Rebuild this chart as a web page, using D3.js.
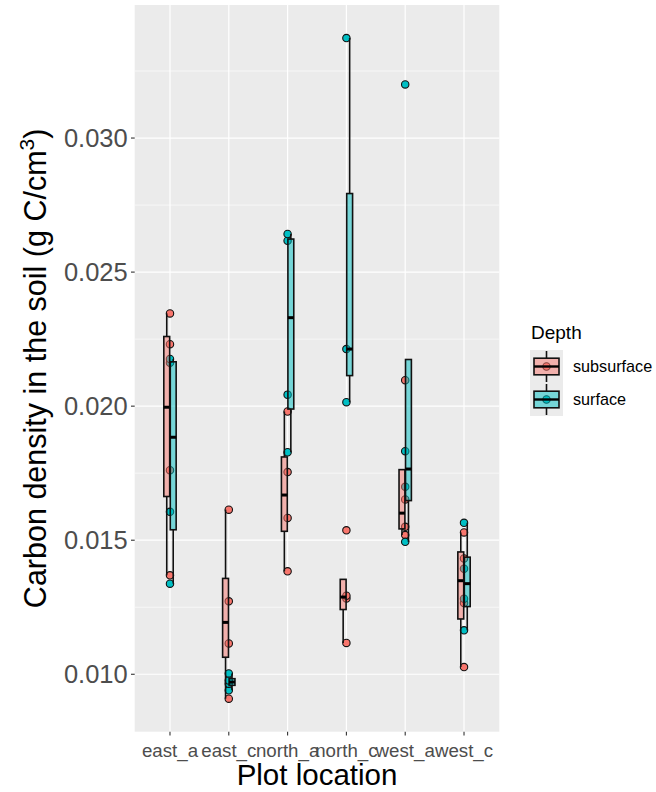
<!DOCTYPE html>
<html>
<head>
<meta charset="utf-8">
<script src="https://cdn.jsdelivr.net/npm/d3@7"></script>
<style>
  html, body { margin: 0; padding: 0; background: #ffffff; }
  svg { display: block; font-family: "Liberation Sans", Arial, Helvetica, sans-serif; }
</style>
</head>
<body>
<svg id="chart" width="656" height="792"></svg>
<script>
// ---------------- data ----------------
const categories = ["east_a", "east_c", "north_a", "north_c", "west_a", "west_c"];
const depths = ["subsurface", "surface"];
const depthColors = ["#F8766D", "#00BFC4"];

// carbon density (g C / cm^3), one list per plot location
const subsurfaceValues = [
  [0.01369, 0.01761, 0.02231, 0.02346],
  [0.00909, 0.01115, 0.01272, 0.01614],
  [0.01384, 0.01583, 0.01754, 0.01980],
  [0.01117, 0.01283, 0.01293, 0.01537],
  [0.01519, 0.01550, 0.01652, 0.02097],
  [0.01027, 0.01266, 0.01432, 0.01529]
];
const surfaceValues = [
  [0.01338, 0.01606, 0.02162, 0.02176],
  [0.00940, 0.00965, 0.00977, 0.01003],
  [0.01828, 0.02043, 0.02617, 0.02642],
  [0.02015, 0.02213, 0.03373],
  [0.01494, 0.01699, 0.01832, 0.03200],
  [0.01164, 0.01282, 0.01394, 0.01565]
];

const yTicks = [0.010, 0.015, 0.020, 0.025, 0.030];
const yTickLabels = ["0.010", "0.015", "0.020", "0.025", "0.030"];
const yMinorTicks = [0.0125, 0.0175, 0.0225, 0.0275, 0.0325];

const xTitle = "Plot location";
const yTitle = "Carbon density in the soil (g C/cm";
const legendTitle = "Depth";

// ---------------- layout ----------------
const svg = d3.select("#chart");
const panel = { left: 134.7, right: 499.3, top: 5, bottom: 731.7 };

const allValues = subsurfaceValues.flat().concat(surfaceValues.flat());
const vmin = d3.min(allValues), vmax = d3.max(allValues);
const pad = (vmax - vmin) * 0.05;

const x = d3.scalePoint().domain(categories).range([panel.left, panel.right]).padding(0.6);
const y = d3.scaleLinear().domain([vmin - pad, vmax + pad]).range([panel.bottom, panel.top]);

const step = x.step();
const boxW = step * 0.1;
const dodge = boxW / 2 + 0.3;
const lineCol = "#111111";
const lineW = 1.6;

// panel background
svg.append("rect")
  .attr("x", panel.left).attr("y", panel.top)
  .attr("width", panel.right - panel.left).attr("height", panel.bottom - panel.top)
  .attr("fill", "#EBEBEB");

// grid
const grid = svg.append("g");
grid.selectAll(".minor").data(yMinorTicks).join("line")
  .attr("x1", panel.left).attr("x2", panel.right)
  .attr("y1", d => y(d)).attr("y2", d => y(d))
  .attr("stroke", "#fff").attr("stroke-width", 0.6);
grid.selectAll(".major").data(yTicks).join("line")
  .attr("x1", panel.left).attr("x2", panel.right)
  .attr("y1", d => y(d)).attr("y2", d => y(d))
  .attr("stroke", "#fff").attr("stroke-width", 1.2);
grid.selectAll(".xmajor").data(categories).join("line")
  .attr("x1", d => x(d)).attr("x2", d => x(d))
  .attr("y1", panel.top).attr("y2", panel.bottom)
  .attr("stroke", "#fff").attr("stroke-width", 1.2);

// ---------------- points ----------------
const groups = [subsurfaceValues, surfaceValues];
const pts = [];
groups.forEach((vals, di) => {
  vals.forEach((arr, ci) => arr.forEach(v => pts.push({ cat: categories[ci], depth: di, v })));
});
svg.append("g").selectAll("circle").data(pts).join("circle")
  .attr("cx", d => x(d.cat))
  .attr("cy", d => y(d.v))
  .attr("r", 3.7)
  .attr("fill", d => depthColors[d.depth])
  .attr("stroke", "#111")
  .attr("stroke-width", 1.1);

// ---------------- boxplots ----------------
function boxStats(arr) {
  const s = arr.slice().sort(d3.ascending);
  const q1 = d3.quantile(s, 0.25), med = d3.quantile(s, 0.5), q3 = d3.quantile(s, 0.75);
  const iqr = q3 - q1;
  const inside = s.filter(v => v >= q1 - 1.5 * iqr && v <= q3 + 1.5 * iqr);
  return { q1, med, q3, lo: Math.min(q1, d3.min(inside)), hi: Math.max(q3, d3.max(inside)) };
}
const boxes = [];
groups.forEach((vals, di) => {
  vals.forEach((arr, ci) => boxes.push({ cat: categories[ci], depth: di, ...boxStats(arr) }));
});
const bg = svg.append("g");
boxes.forEach(b => {
  const cx = x(b.cat) + (b.depth === 0 ? -dodge : dodge);
  const g = bg.append("g");
  g.append("line").attr("x1", cx).attr("x2", cx).attr("y1", y(b.q3)).attr("y2", y(b.hi))
    .attr("stroke", lineCol).attr("stroke-width", lineW);
  g.append("line").attr("x1", cx).attr("x2", cx).attr("y1", y(b.q1)).attr("y2", y(b.lo))
    .attr("stroke", lineCol).attr("stroke-width", lineW);
  g.append("rect")
    .attr("x", cx - boxW / 2).attr("width", boxW)
    .attr("y", y(b.q3)).attr("height", y(b.q1) - y(b.q3))
    .attr("fill", depthColors[b.depth]).attr("fill-opacity", 0.5)
    .attr("stroke", lineCol).attr("stroke-width", lineW);
  g.append("line").attr("x1", cx - boxW / 2).attr("x2", cx + boxW / 2)
    .attr("y1", y(b.med)).attr("y2", y(b.med))
    .attr("stroke", "#000").attr("stroke-width", 3);
});

// ---------------- axes ----------------
const axisText = "#4D4D4D", tickCol = "#333333";
const yAxis = svg.append("g");
yAxis.selectAll("line").data(yTicks).join("line")
  .attr("x1", panel.left - 3.7).attr("x2", panel.left)
  .attr("y1", d => y(d)).attr("y2", d => y(d))
  .attr("stroke", tickCol).attr("stroke-width", 1.1);
yAxis.selectAll("text").data(yTicks).join("text")
  .attr("x", panel.left - 7).attr("y", d => y(d))
  .attr("dy", "0.36em")
  .attr("text-anchor", "end")
  .attr("font-size", 25.5)
  .attr("fill", axisText)
  .text((d, i) => yTickLabels[i]);

const xAxis = svg.append("g");
xAxis.selectAll("line").data(categories).join("line")
  .attr("x1", d => x(d)).attr("x2", d => x(d))
  .attr("y1", panel.bottom).attr("y2", panel.bottom + 3.7)
  .attr("stroke", tickCol).attr("stroke-width", 1.1);
xAxis.selectAll("text").data(categories).join("text")
  .attr("x", d => x(d)).attr("y", 756.5)
  .attr("text-anchor", "middle")
  .attr("font-size", 18.7)
  .attr("fill", axisText)
  .text(d => d);

// titles
svg.append("text")
  .attr("x", (panel.left + panel.right) / 2).attr("y", 785)
  .attr("text-anchor", "middle").attr("font-size", 29.5).attr("fill", "#000")
  .text(xTitle);

const yt = svg.append("text")
  .attr("transform", `translate(46, ${(panel.top + panel.bottom) / 2}) rotate(-90)`)
  .attr("text-anchor", "middle").attr("font-size", 30.5).attr("fill", "#000");
yt.append("tspan").text(yTitle);
yt.append("tspan").attr("font-size", 21).attr("dy", -12).text("3");
yt.append("tspan").attr("dy", 12).text(")");

// ---------------- legend ----------------
const lg = svg.append("g");
lg.append("text").attr("x", 531).attr("y", 339).attr("font-size", 19).attr("fill", "#000").text(legendTitle);
depths.forEach((dname, i) => {
  const ky = 350 + i * 33;
  const kx = 530, kw = 33, kh = 33;
  const cx = kx + kw / 2, cy = ky + kh / 2;
  lg.append("rect").attr("x", kx).attr("y", ky).attr("width", kw).attr("height", kh).attr("fill", "#EBEBEB");
  lg.append("circle").attr("cx", cx).attr("cy", cy).attr("r", 3.7)
    .attr("fill", depthColors[i]).attr("stroke", "#111").attr("stroke-width", 1.1);
  lg.append("line").attr("x1", cx).attr("x2", cx).attr("y1", ky + 1).attr("y2", cy - 8.3)
    .attr("stroke", lineCol).attr("stroke-width", lineW);
  lg.append("line").attr("x1", cx).attr("x2", cx).attr("y1", cy + 8.3).attr("y2", ky + kh - 1)
    .attr("stroke", lineCol).attr("stroke-width", lineW);
  lg.append("rect").attr("x", cx - 12.5).attr("y", cy - 8.3).attr("width", 25).attr("height", 16.6)
    .attr("fill", depthColors[i]).attr("fill-opacity", 0.5)
    .attr("stroke", lineCol).attr("stroke-width", lineW);
  lg.append("line").attr("x1", cx - 12.5).attr("x2", cx + 12.5).attr("y1", cy).attr("y2", cy)
    .attr("stroke", "#000").attr("stroke-width", 2.4);
  lg.append("text").attr("x", 573).attr("y", cy).attr("dy", "0.36em")
    .attr("font-size", 16.2).attr("fill", "#000").text(dname);
});
</script>
</body>
</html>
